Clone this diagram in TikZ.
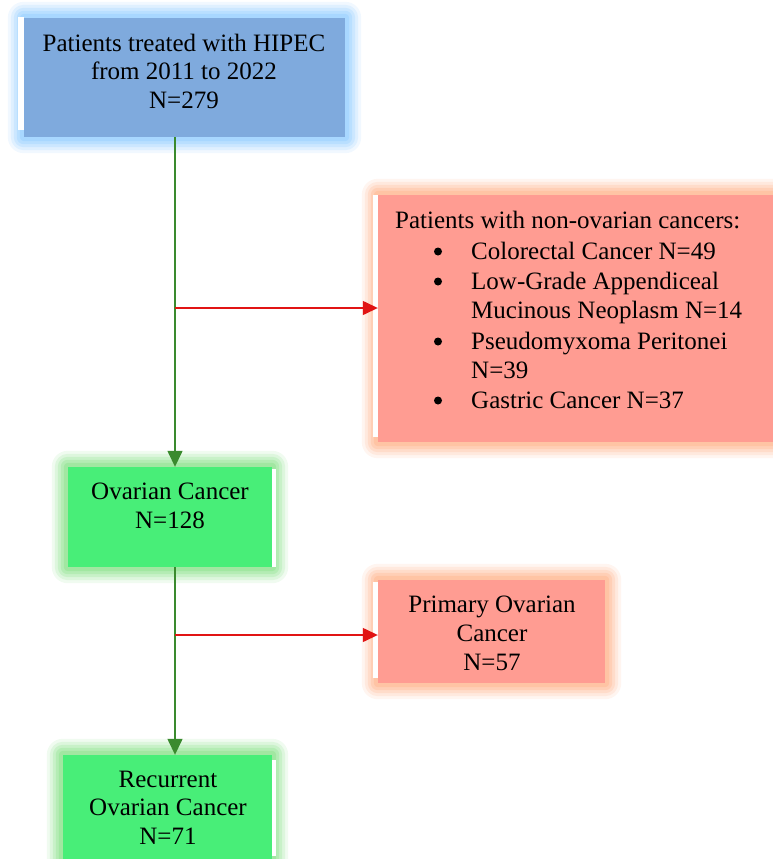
\documentclass[tikz,border=0pt]{standalone}
\usepackage{fontspec}
\setmainfont{Liberation Serif}
\usetikzlibrary{arrows.meta,calc,backgrounds}
\definecolor{boxblue}{RGB}{127,170,221}
\definecolor{glowblue}{RGB}{120,195,255}
\definecolor{boxred}{RGB}{255,156,146}
\definecolor{glowred}{RGB}{255,165,115}
\definecolor{boxgreen}{RGB}{72,238,120}
\definecolor{glowgreen}{RGB}{110,220,110}
\definecolor{linegreen}{RGB}{58,138,46}
\definecolor{linered}{RGB}{225,20,20}
\tikzset{
  box/.style={rectangle,inner sep=0pt,draw=none},
  txt/.style={anchor=base,inner sep=0pt,font=\fontsize{25}{29}\selectfont},
  ltxt/.style={anchor=base west,inner sep=0pt,font=\fontsize{25}{29}\selectfont},
  bul/.style={circle,fill=black,inner sep=0pt,minimum size=8pt},
  garrow/.style={draw=linegreen,line width=1.4pt,-{Triangle[length=16pt,width=15pt]}},
  rarrow/.style={draw=linered,line width=1.4pt,-{Triangle[length=15pt,width=14pt]}},
}
\newcommand{\boxglow}[2]{%
  \foreach \d/\op in {16/0.10,13/0.14,10/0.18,7/0.22,4/0.26}{%
    \fill[#2,opacity=\op,rounded corners=\d pt]
      ($(#1.south west)+(-\d,\d)$) rectangle ($(#1.north east)+(\d,-\d)$);
  }%
}
\begin{document}
\begin{tikzpicture}[x=1pt,y=-1pt]
\useasboundingbox (0,0) rectangle (773,859);
% boxes
\node[box,fill=boxblue,minimum width=321pt,minimum height=119pt] (top) at (184.5,77.5) {};
\node[box,fill=boxred,minimum width=420pt,minimum height=247pt] (other) at (588,318.5) {};
\node[box,fill=boxgreen,minimum width=204pt,minimum height=100pt] (ovar) at (170,517) {};
\node[box,fill=boxred,minimum width=227pt,minimum height=103pt] (prim) at (491.5,631.5) {};
\node[box,fill=boxgreen,minimum width=209pt,minimum height=115pt] (recur) at (167.5,812.5) {};
\begin{scope}[on background layer]
\fill[white] (0,0) rectangle (773,859);
\boxglow{top}{glowblue}
\boxglow{other}{glowred}
\boxglow{ovar}{glowgreen}
\boxglow{prim}{glowred}
\boxglow{recur}{glowgreen}
\end{scope}
% white edge strips
\fill[white] (18,17) rectangle (24,130);
\fill[white] (373,195) rectangle (378,437);
\fill[white] (272,469) rectangle (276,567);
\fill[white] (373,582) rectangle (378,678);
\fill[white] (272,760) rectangle (276,856);
% texts
\node[txt] (t1) at (184,52) {Patients treated with HIPEC};
\node[txt] (t2) at (184,80) {from 2011 to 2022};
\node[txt] (t3) at (184,108) {N=279};
\node[ltxt] (o0) at (395,228) {Patients with non-ovarian cancers:};
\node[bul] (b1) at (438,251.5) {};
\node[ltxt] (o1) at (471,259) {Colorectal Cancer N=49};
\node[bul] (b2) at (438,281.5) {};
\node[ltxt] (o2) at (471,289) {Low-Grade Appendiceal};
\node[ltxt] (o3) at (471,318) {Mucinous Neoplasm N=14};
\node[bul] (b3) at (438,341.5) {};
\node[ltxt] (o4) at (471,349) {Pseudomyxoma Peritonei};
\node[ltxt] (o5) at (471,378) {N=39};
\node[bul] (b4) at (438,400.5) {};
\node[ltxt] (o6) at (471,408) {Gastric Cancer N=37};
\node[txt] (v1) at (170,499) {Ovarian Cancer};
\node[txt] (v2) at (170,528) {N=128};
\node[txt] (p1) at (492,612) {Primary Ovarian};
\node[txt] (p2) at (492,641) {Cancer};
\node[txt] (p3) at (492,670) {N=57};
\node[txt] (r1) at (168,787) {Recurrent};
\node[txt] (r2) at (168,815) {Ovarian Cancer};
\node[txt] (r3) at (168,844) {N=71};
% connectors
\coordinate (trunk) at (175,0);
\coordinate (j1) at (175,308);
\coordinate (j2) at (175,635);
\draw[garrow] (top.south -| trunk) -- (ovar.north -| trunk);
\draw[rarrow] (j1) -- (other.west |- j1);
\draw[garrow] (ovar.south -| trunk) -- (recur.north -| trunk);
\draw[rarrow] (j2) -- (prim.west |- j2);
\end{tikzpicture}
\end{document}
